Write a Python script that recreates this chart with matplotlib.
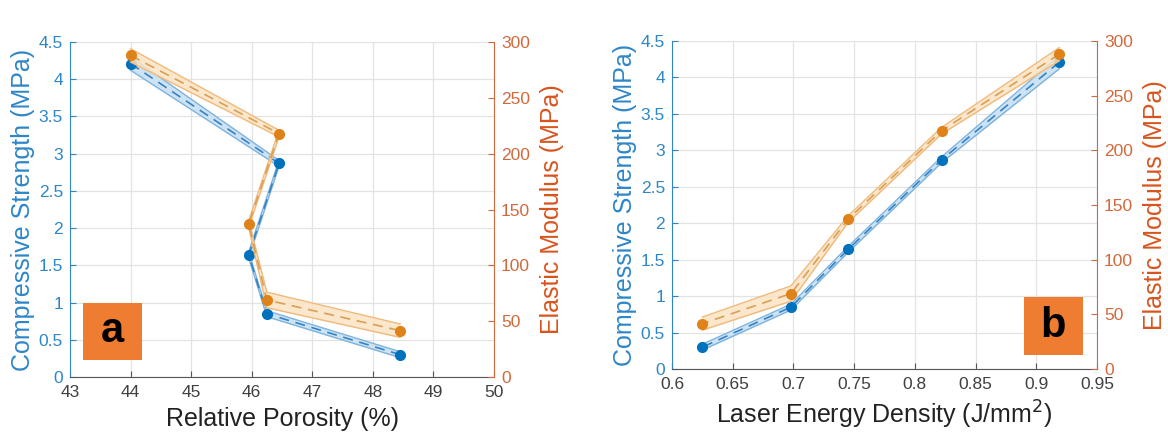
import matplotlib
matplotlib.use("Agg")
import matplotlib.pyplot as plt
from matplotlib.patches import Rectangle
import numpy as np

# ---- data ----
porosity = [44.0, 46.45, 45.95, 46.25, 48.45]
energy = [0.919, 0.822, 0.745, 0.698, 0.625]
strength = [4.21, 2.87, 1.64, 0.85, 0.30]
strength_err = [0.09, 0.04, 0.04, 0.04, 0.04]
modulus = [288, 218, 137, 69, 41.5]
modulus_err = [6, 3, 3, 7, 6]

xticks_a = [43, 44, 45, 46, 47, 48, 49, 50]
xticks_b = [0.6, 0.65, 0.7, 0.75, 0.8, 0.85, 0.9, 0.95]
xticklabels_b = ["0.6", "0.65", "0.7", "0.75", "0.8", "0.85", "0.9", "0.95"]
yticks_l = [0, 0.5, 1, 1.5, 2, 2.5, 3, 3.5, 4, 4.5]
yticklabels_l = ["0", "0.5", "1", "1.5", "2", "2.5", "3", "3.5", "4", "4.5"]
yticks_r = [0, 50, 100, 150, 200, 250, 300]

plt.rcParams['font.family'] = ['Liberation Sans', 'DejaVu Sans']

BLUE = "#0072BD"
BLUE_DASH = "#3683C4"
BLUE_TXT = "#2E86C8"
BLUE_BAND = "#CDE3F4"
BLUE_EDGE = "#7DB3DE"
ORANGE_MK = "#E0821A"
ORANGE_DASH = "#D9A055"
ORANGE_BAND = "#FBE3C4"
ORANGE_EDGE = "#F1B97A"
ORANGE_AX = "#D2693A"
DARK = "#404040"
BOX = "#EE7D32"

W, H = 1168, 438
fig = plt.figure(figsize=(W / 100, H / 100), dpi=100)


def make_panel(rect, x, xlim, xticks, xticklabels, xlabel, letter, box):
    ax = fig.add_axes(rect)
    ax2 = ax.twinx()
    arr_x = np.array(x)
    s = np.array(strength)
    se = np.array(strength_err)
    m = np.array(modulus)
    me = np.array(modulus_err)

    # blue band
    ax.fill_between(arr_x, s - se, s + se, color=BLUE_BAND, lw=0, zorder=2)
    ax.plot(arr_x, s - se, color=BLUE_EDGE, lw=1.0, zorder=3)
    ax.plot(arr_x, s + se, color=BLUE_EDGE, lw=1.0, zorder=3)
    ax.plot(arr_x, s, color=BLUE_DASH, lw=1.2, ls=(0, (6, 4)), zorder=4)
    ax.plot(arr_x, s, ls='none', marker='o', ms=7, color=BLUE, zorder=5)

    # orange band
    ax2.fill_between(arr_x, m - me, m + me, color=ORANGE_BAND, lw=0, alpha=0.85, zorder=2)
    ax2.plot(arr_x, m - me, color=ORANGE_EDGE, lw=1.0, zorder=3)
    ax2.plot(arr_x, m + me, color=ORANGE_EDGE, lw=1.0, zorder=3)
    ax2.plot(arr_x, m, color=ORANGE_DASH, lw=1.2, ls=(0, (6, 4)), zorder=4)
    ax2.plot(arr_x, m, ls='none', marker='o', ms=7, color=ORANGE_MK, zorder=5)

    ax.set_xlim(*xlim)
    ax.set_ylim(0, 4.5)
    ax2.set_ylim(0, 300)
    ax.set_xticks(xticks)
    ax.set_xticklabels(xticklabels)
    ax.set_yticks(yticks_l)
    ax.set_yticklabels(yticklabels_l)
    ax2.set_yticks(yticks_r)

    ax.grid(True, color="#E3E3E3", lw=0.9, zorder=0)
    ax.set_axisbelow(True)

    for a in (ax, ax2):
        a.spines['top'].set_visible(False)
    ax.spines['left'].set_color(BLUE_TXT)
    ax.spines['bottom'].set_color("#555555")
    ax.spines['right'].set_visible(False)
    ax2.spines['left'].set_visible(False)
    ax2.spines['bottom'].set_visible(False)
    ax2.spines['right'].set_color(ORANGE_AX)

    ax.tick_params(axis='x', direction='in', length=4, colors="#555555",
                   labelcolor=DARK, labelsize=12.5, pad=6)
    ax.tick_params(axis='y', direction='in', length=4, colors=BLUE_TXT,
                   labelcolor=BLUE_TXT, labelsize=12.5, pad=5)
    ax2.tick_params(axis='y', direction='in', length=4, colors=ORANGE_AX,
                    labelcolor=ORANGE_AX, labelsize=12.5, pad=5)

    ax.set_xlabel(xlabel, fontsize=18, color="#222222", labelpad=5)
    ax.set_ylabel("Compressive Strength (MPa)", fontsize=18, color=BLUE_TXT, labelpad=3)
    ax2.set_ylabel("Elastic Modulus (MPa)", fontsize=18, color="#D9541E", labelpad=7)

    x0, y0, x1, y1 = box
    rect_p = Rectangle((x0, y0), x1 - x0, y1 - y0, transform=ax2.transAxes,
                       facecolor=BOX, edgecolor='none', zorder=10, clip_on=False)
    ax2.add_patch(rect_p)
    ax2.text((x0 + x1) / 2, (y0 + y1) / 2, letter, transform=ax2.transAxes,
             ha='center', va='center', fontsize=30, fontweight='bold',
             color='black', zorder=11)
    return ax, ax2


make_panel([70 / W, (H - 377) / H, 424 / W, 335 / H], porosity, (43, 50),
           xticks_a, [str(t) for t in xticks_a], "Relative Porosity (%)", "a",
           (0.031, 0.051, 0.170, 0.221))

make_panel([672 / W, (H - 369) / H, 425 / W, 328 / H], energy, (0.6, 0.95),
           xticks_b, xticklabels_b, "Laser Energy Density (J/mm$^2$)", "b",
           (0.828, 0.043, 0.967, 0.2195))

fig.savefig("out.png", dpi=100, facecolor="white")
